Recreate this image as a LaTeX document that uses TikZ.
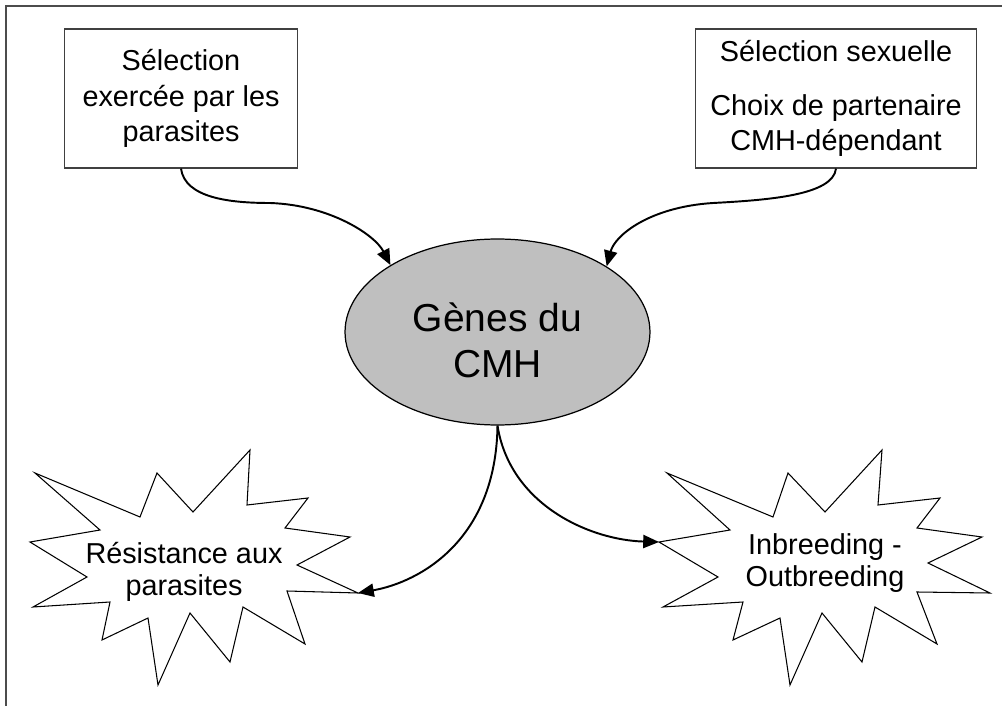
\documentclass[tikz,border=0pt]{standalone}
\usepackage{fontspec}
\setmainfont{Liberation Sans}
\usetikzlibrary{arrows.meta,shapes.geometric}
\tikzset{
  boxnode/.style={draw=black!75, line width=0.7pt, rectangle, align=center, inner sep=0pt,
    font=\fontsize{16.4pt}{20.2pt}\selectfont},
  conn/.style={line width=1.1pt, -{Triangle[length=9pt,width=7.5pt]}},
  starshape/.style={draw=black, line width=0.6pt, fill=white, line join=miter},
  startext/.style={align=center, inner sep=0pt, font=\fontsize{16.4pt}{18.6pt}\selectfont},
  framebox/.style={draw=black!70, line width=1.1pt}
}
\begin{document}
\begin{tikzpicture}[x=0.02cm, y=-0.02cm]
\useasboundingbox (0,0) rectangle (1002,706);
% frame
\draw[framebox] (6,706) -- (6,6) -- (1002,6);
% boxes
\node[boxnode, minimum width=4.66cm, minimum height=2.78cm] (lbox) at (181,98.5)
  {Sélection\\exercée par les\\parasites};
\node[boxnode, minimum width=5.62cm, minimum height=2.78cm] (rbox) at (836,98.5)
  {Sélection sexuelle\\[10.5pt]Choix de partenaire\\CMH-dépendant};
% ellipse
\node[ellipse, draw=black, line width=0.7pt, fill=black!25, minimum width=6.1cm, minimum height=3.72cm, inner sep=0pt] (cmh) at (497.5,332) {};
\node[align=center, inner sep=0pt, font=\fontsize{22.2pt}{26pt}\selectfont] (cmhtext) at (497.5,340) {Gènes du\\CMH};
% stars
\draw[starshape] (35,473) -- (140,517) -- (157,473) -- (193,512) -- (250,450) -- (247,505)
  -- (308,498) -- (285,528) -- (350,537) -- (297,565) -- (358,593) -- (287,591)
  -- (305,644) -- (243,607) -- (230,662) -- (190,613) -- (158,685) -- (148,618)
  -- (102,640) -- (110,602) -- (33,607) -- (87,577) -- (30,542) -- (100,530) -- cycle;
\draw[starshape] (667,473) -- (773,517) -- (788,473) -- (825,512) -- (882,450) -- (878,505)
  -- (940,498) -- (917,528) -- (982,537) -- (928,563) -- (990,593) -- (917,592)
  -- (937,644) -- (875,607) -- (862,662) -- (822,613) -- (790,685) -- (780,618)
  -- (733,640) -- (743,602) -- (663,607) -- (718,577) -- (659,542) -- (730,530) -- cycle;
\coordinate (ltip) at (358,593);
\coordinate (rtip) at (659,542);
\node[startext] (ltext) at (184,572) {Résistance aux\\parasites};
\node[startext] (rtext) at (825,563) {Inbreeding -\\Outbreeding};
% connectors
\draw[conn] (lbox.south) .. controls (185,198) and (230,203) .. (270,203)
  .. controls (330,205) and (375,235) .. (cmh.148);
\draw[conn] (rbox.south) .. controls (833,195) and (770,200) .. (713,203)
  .. controls (650,207) and (615,235) .. (cmh.31.5);
\draw[conn] (cmh.south) .. controls (496,540) and (420,582) .. (ltip);
\draw[conn] (cmh.south) .. controls (510,505) and (590,540) .. (rtip);
\end{tikzpicture}
\end{document}
